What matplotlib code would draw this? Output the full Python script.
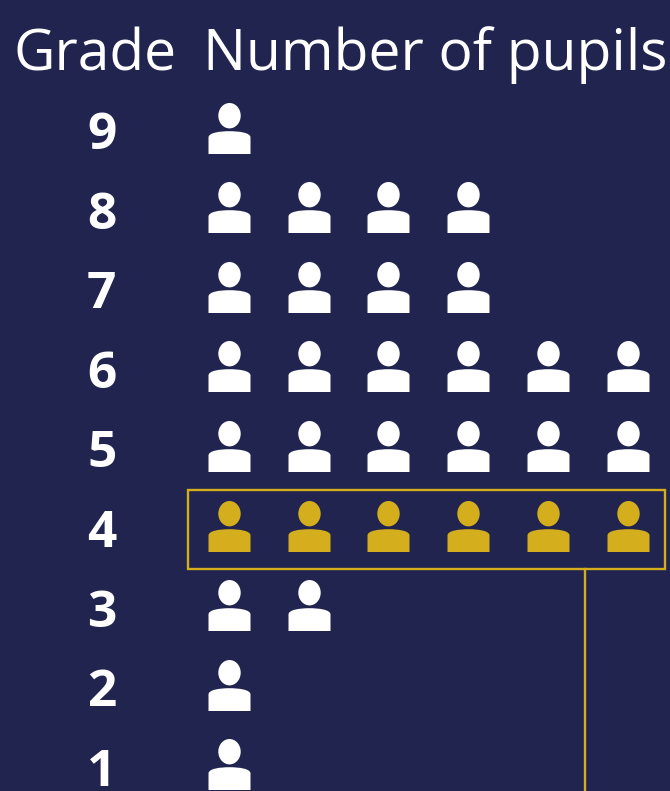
import matplotlib
matplotlib.use("Agg")
import matplotlib.pyplot as plt
import numpy as np
from matplotlib.path import Path
from matplotlib.patches import Rectangle

grades = [9, 8, 7, 6, 5, 4, 3, 2, 1]
pupils = [1, 4, 4, 6, 6, 6, 2, 1, 1]
highlight = 4

BG = "#20244f"
GOLD = "#d4ae1c"
FONT = "Open Sans"


def person_marker():
    head = Path.unit_circle()
    head = Path(head.vertices * [11.2, 12.7] + [0, 12.8], head.codes)
    body = Path(
        [(-21, -25.5), (-21, -9), (-21, -4), (-9, -2.7), (0, -2.7), (9, -2.7),
         (21, -4), (21, -9), (21, -25.5), (-21, -25.5)],
        [Path.MOVETO, Path.LINETO, Path.CURVE4, Path.CURVE4, Path.CURVE4, Path.CURVE4,
         Path.CURVE4, Path.CURVE4, Path.LINETO, Path.CLOSEPOLY],
    )
    return Path.make_compound_path(head, body)


fig = plt.figure(figsize=(6.7, 7.91), dpi=100, facecolor=BG)
ax = fig.add_axes([0, 0, 1, 1])
ax.set_xlim(-1.873, 6.533)
ax.set_ylim(0.665, 10.602)
ax.axis("off")

marker = person_marker()
size = (51 * 0.72) ** 2
for grade, n in zip(grades, pupils):
    col = GOLD if grade == highlight else "white"
    ax.scatter(np.arange(1, n + 1), [grade] * n, marker=marker, s=size, c=col, linewidths=0)
    ax.text(-0.597, grade - 0.27, str(grade), color="white", family=FONT, weight="bold",
            fontsize=37, ha="center", va="baseline")

# box round the highlighted row, with the leader going off the bottom
ax.add_patch(Rectangle((0.486, 3.46), 5.978, 0.986, fill=False, ec=GOLD, lw=1.7))
ax.plot([5.464, 5.464], [3.46, 0.6], color=GOLD, lw=1.7)

ax.text(95.5 / 670, 1 - 70.5 / 791, "Grade", color="white", family=FONT, fontsize=41,
        ha="center", va="baseline", transform=ax.transAxes)
ax.text(435 / 670, 1 - 70.5 / 791, "Number of pupils", color="white", family=FONT, fontsize=41,
        ha="center", va="baseline", transform=ax.transAxes)

fig.savefig("out.png", dpi=100, facecolor=BG)
